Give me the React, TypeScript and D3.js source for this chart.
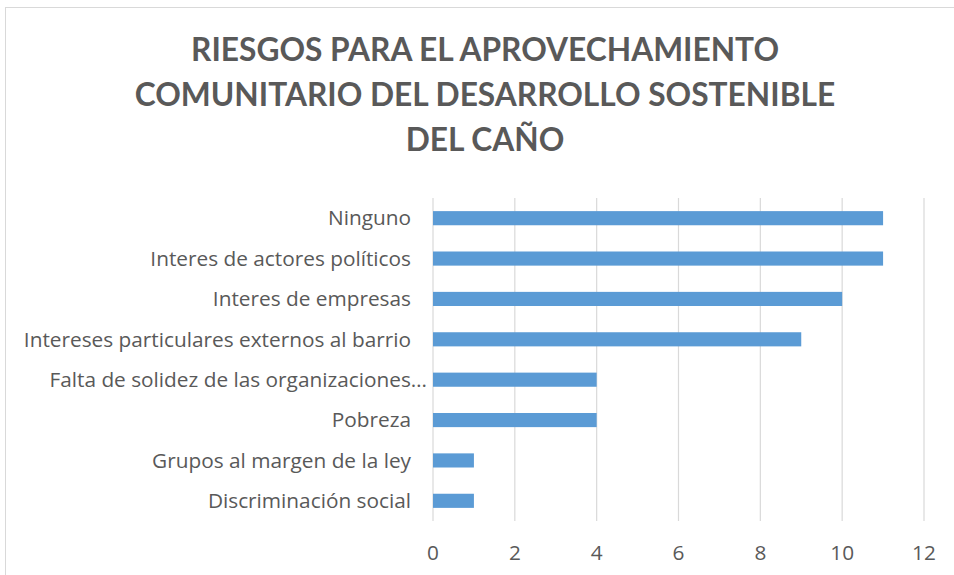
import React, { useEffect, useRef } from 'react';
import * as d3 from 'd3';

const titleLines = ['RIESGOS PARA EL APROVECHAMIENTO', 'COMUNITARIO DEL DESARROLLO SOSTENIBLE', 'DEL CAÑO'];
const categories = [
  'Ninguno',
  'Interes de actores políticos',
  'Interes de empresas',
  'Intereses particulares externos al barrio',
  'Falta de solidez de las organizaciones…',
  'Pobreza',
  'Grupos al margen de la ley',
  'Discriminación social',
];
const values = [11, 11, 10, 9, 4, 4, 1, 1];
const xTicks = [0, 2, 4, 6, 8, 10, 12];

const W = 954;
const H = 575;
const titleFont = 'Lato, "Open Sans", sans-serif';
const font = '"Open Sans", Lato, sans-serif';

const App = () => {
  const ref = useRef(null);

  useEffect(() => {
    const svg = d3.select(ref.current);
    svg.selectAll('*').remove();

    const left = 433, right = 924, top = 198, bottom = 521;
    const x = d3.scaleLinear().domain([0, 12]).range([left, right]);
    const y = d3.scaleBand().domain(categories).range([top, bottom]).paddingInner(0.65).paddingOuter(0.325);

    // chart frame
    svg.append('rect')
      .attr('x', 5.5).attr('y', 7.5)
      .attr('width', W + 20).attr('height', H + 20)
      .attr('fill', 'white')
      .attr('stroke', '#D9D9D9');

    const title = svg.append('text')
      .attr('text-anchor', 'middle')
      .attr('fill', '#595959')
      .style('font-family', titleFont)
      .style('font-weight', 'bold')
      .style('font-size', '31.7px');
    titleLines.forEach((t, i) => {
      title.append('tspan').attr('x', 485).attr('y', 61 + i * 45).text(t);
    });

    // gridlines
    svg.append('g')
      .selectAll('line')
      .data(xTicks)
      .join('line')
      .attr('x1', d => x(d)).attr('x2', d => x(d))
      .attr('y1', top).attr('y2', bottom)
      .attr('stroke', '#D9D9D9')
      .attr('stroke-width', 1.2);

    svg.append('g')
      .selectAll('rect')
      .data(values)
      .join('rect')
      .attr('x', x(0))
      .attr('y', (d, i) => y(categories[i]))
      .attr('width', d => x(d) - x(0))
      .attr('height', y.bandwidth())
      .attr('fill', '#5B9BD5');

    svg.append('g')
      .selectAll('text')
      .data(categories)
      .join('text')
      .attr('x', (d, i) => i === 4 ? 427 : 411)
      .attr('y', d => y(d) + y.bandwidth() / 2)
      .attr('dy', '0.35em')
      .attr('text-anchor', 'end')
      .attr('fill', '#595959')
      .style('font-family', font)
      .style('font-size', '20.8px')
      .text(d => d);

    svg.append('g')
      .selectAll('text')
      .data(xTicks)
      .join('text')
      .attr('x', d => x(d))
      .attr('y', 553)
      .attr('dy', '0.35em')
      .attr('text-anchor', 'middle')
      .attr('fill', '#595959')
      .style('font-family', font)
      .style('font-size', '20.8px')
      .text(d => d);
  }, []);

  return (
    <svg ref={ref} width={W} height={H}
      style={{ position: 'absolute', left: 0, top: 0, background: 'white' }} />
  );
};

export default App;
